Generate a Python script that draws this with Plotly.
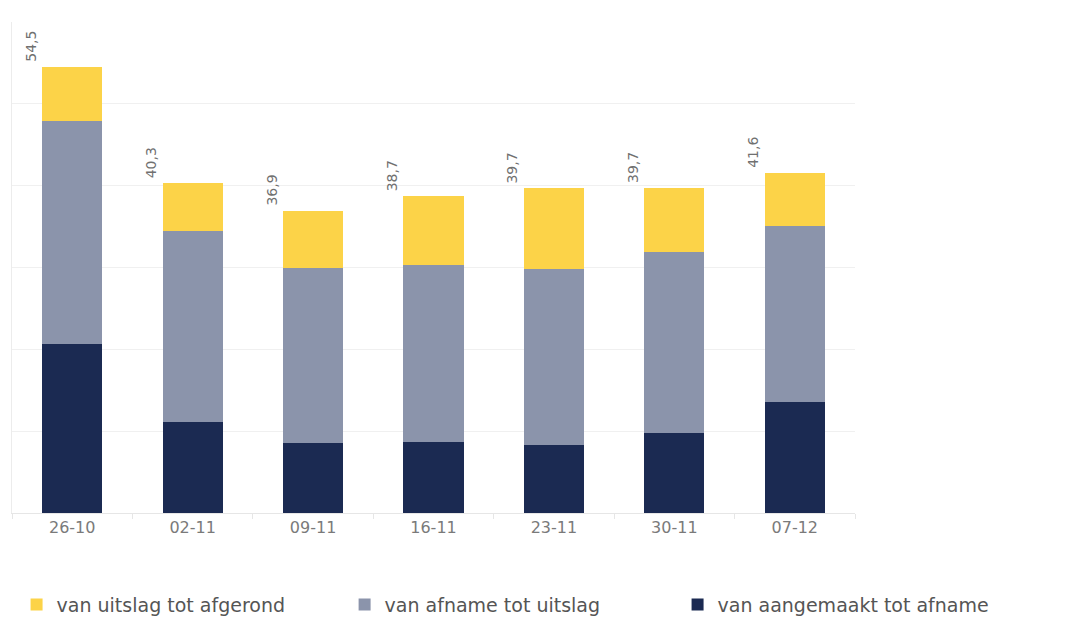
import plotly.graph_objects as go

categories = ["26-10", "02-11", "09-11", "16-11", "23-11", "30-11", "07-12"]
aangemaakt_afname = [20.7, 11.1, 8.5, 8.7, 8.3, 9.8, 13.6]
afname_uitslag = [27.2, 23.3, 21.5, 21.6, 21.5, 22.1, 21.5]
uitslag_afgerond = [6.6, 5.9, 6.9, 8.4, 9.9, 7.8, 6.5]

series_names = ["van aangemaakt tot afname", "van afname tot uitslag", "van uitslag tot afgerond"]
colors = ["#1b2a52", "#8b94ab", "#fcd348"]
legend_ids = ["legend3", "legend2", "legend"]

totals = [round(a + b + c, 1) for a, b, c in zip(aangemaakt_afname, afname_uitslag, uitslag_afgerond)]
total_labels = [f"{t:.1f}".replace(".", ",") for t in totals]

FONT = "DejaVu Sans"

fig = go.Figure()
for name, vals, col, lg in zip(series_names, [aangemaakt_afname, afname_uitslag, uitslag_afgerond], colors, legend_ids):
    fig.add_trace(go.Bar(x=categories, y=vals, name=name, marker=dict(color=col, line=dict(width=0)),
                         width=0.5, hoverinfo="skip", legend=lg))

for c, t, lab in zip(categories, totals, total_labels):
    fig.add_annotation(x=c, y=t, text=lab, textangle=-90, showarrow=False,
                       xanchor="center", yanchor="bottom", xshift=-42, yshift=3,
                       font=dict(family=FONT, size=14, color="#707070"))

leg_common = dict(orientation="h", xref="container", yref="container", xanchor="left", yanchor="middle",
                  y=0.036, font=dict(family=FONT, size=19, color="#555555"))

fig.update_layout(
    barmode="stack",
    width=1072, height=619,
    margin=dict(l=4, r=225, t=14, b=114, autoexpand=False),
    plot_bgcolor="white", paper_bgcolor="white",
    font=dict(family=FONT, color="#666666"),
    showlegend=True,
    legend=dict(x=0.008, **leg_common),
    legend2=dict(x=0.314, **leg_common),
    legend3=dict(x=0.6246, **leg_common),
    xaxis=dict(type="category", showgrid=False, showline=True, linecolor="#e6e6e6", ticks="outside",
               tickson="boundaries", ticklen=5, tickcolor="#e6e6e6", tickfont=dict(size=16, color="#7a7a7a")),
    yaxis=dict(range=[0, 60], dtick=10, showgrid=True, gridcolor="#f0f0f0", showticklabels=False,
               zeroline=False, showline=True, linecolor="#ececec"),
)

fig.write_html("out.html")
